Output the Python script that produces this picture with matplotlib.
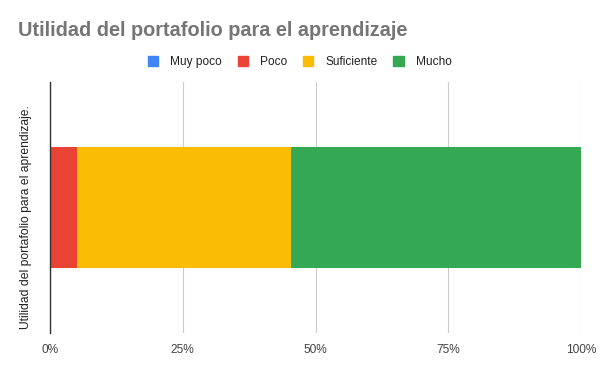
import matplotlib
matplotlib.use("Agg")
import matplotlib.pyplot as plt
from matplotlib.patches import Patch
from matplotlib.ticker import FuncFormatter

plt.rcParams['font.family'] = ['Liberation Sans', 'DejaVu Sans']

category = "Utilidad del portafolio para el aprendizaje."
series_names = ["Muy poco", "Poco", "Suficiente", "Mucho"]
series_values = [0.0, 5.0, 40.4, 54.6]
colors = ["#4285F4", "#EA4335", "#FBBC04", "#34A853"]
tick_values = [0, 25, 50, 75, 100]

fig = plt.figure(figsize=(6, 3.71), dpi=100)
ax = fig.add_axes([50/600, 1 - 333/371, (581-50)/600, (333-82)/371])

left = 0
for name, v, c in zip(series_names, series_values, colors):
    ax.barh([0], [v], left=left, height=0.48, color=c, label=name, zorder=3)
    left += v

ax.set_xlim(0, 100)
ax.set_ylim(-0.5, 0.5)
ax.set_xticks(tick_values)
ax.xaxis.set_major_formatter(FuncFormatter(lambda x, p: f"{int(x)}%"))
ax.tick_params(axis='x', length=0, labelsize=8.6, labelcolor="#444444", pad=8)
ax.set_yticks([])
ax.grid(axis='x', color="#cccccc", linewidth=0.8, zorder=0)
for s in ["top", "right", "bottom"]:
    ax.spines[s].set_visible(False)
ax.spines["left"].set_color("#333333")
ax.spines["left"].set_linewidth(1)
ax.spines["left"].set_zorder(4)
ax.set_ylabel(category, fontsize=8.7, color="#222222")
ax.yaxis.set_label_coords(-0.034, 0.462)

fig.text(18/600, 1 - 31/371, "Utilidad del portafolio para el aprendizaje",
         fontsize=14.3, fontweight="bold", color="#757575", va="center", ha="left")

handles = [Patch(facecolor=c, edgecolor=c) for c in colors]
fig.legend(handles, series_names, loc="center", bbox_to_anchor=(299.5/600, 1 - 62/371),
           ncol=4, frameon=False, fontsize=8.6, handlelength=0.85, handleheight=0.85,
           columnspacing=1.35, handletextpad=1.0, labelcolor="#222222")

fig.savefig("out.png", dpi=100)
